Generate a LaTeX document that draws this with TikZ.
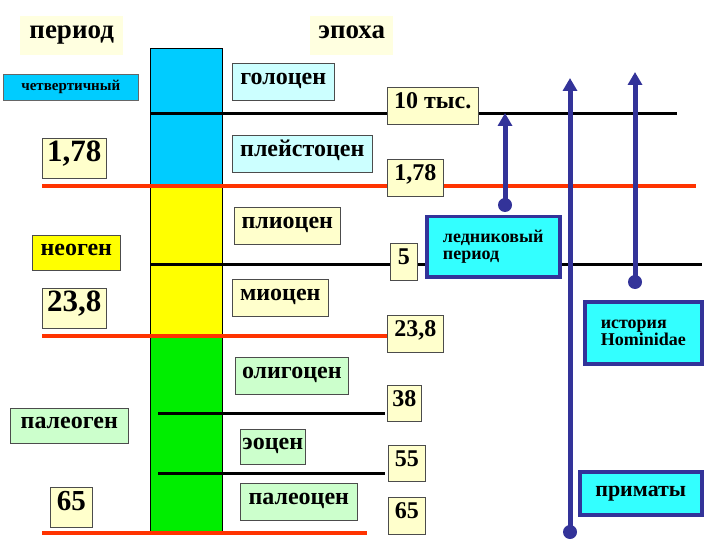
\documentclass[tikz,border=0pt]{standalone}
\usepackage{fontspec}
\setmainfont{Liberation Serif}
\usetikzlibrary{arrows.meta}
\definecolor{pale}{HTML}{FFFFCC}
\definecolor{lcyan}{HTML}{CCFFFF}
\definecolor{lgreen}{HTML}{CCFFCC}
\definecolor{cyanc}{HTML}{00CCFF}
\definecolor{yel}{HTML}{FFFF00}
\definecolor{grn}{HTML}{00EE00}
\definecolor{redl}{HTML}{FF3300}
\definecolor{dblue}{HTML}{333399}
\definecolor{bcyan}{HTML}{33FFFF}
\begin{document}
\begin{tikzpicture}[x=1pt,y=-1pt,
 bx/.style={draw=black!70,line width=0.6pt,inner sep=0pt,anchor=north west,text height=1.3ex,text depth=0pt,font=\bfseries\fontsize{24}{26}\selectfont},
 hd/.style={fill=pale!60,inner sep=0pt,anchor=north west,text height=1.3ex,text depth=0pt,font=\bfseries\fontsize{27}{29}\selectfont},
 blk/.style={line width=3pt,black},
 red/.style={line width=4.5pt,redl},
 blu/.style={line width=5pt,dblue},
 arr/.style={blu,-{Triangle[length=13pt,width=14pt]}},
 dot/.style={circle,fill=dblue,inner sep=0pt,minimum size=14pt},
 bb/.style={draw=dblue,line width=3.5pt,fill=bcyan,inner sep=0pt,anchor=north west,font=\bfseries\fontsize{18}{19}\selectfont}]
\useasboundingbox (0,0) rectangle (720,540);
% column
\fill[cyanc] (150,48) rectangle (222,185);
\fill[yel] (150,185) rectangle (222,335);
\fill[grn] (150,335) rectangle (222,532);
\draw[line width=0.5pt] (150,48) rectangle (222,532);
% lines
\draw[blk] (150,114) -- (387,114);
\draw[blk] (478,114) -- (677,114);
\draw[red] (42,186) -- (387,186);
\draw[red] (443,186) -- (696,186);
\draw[blk] (150,264) -- (390,264);
\draw[blk] (417,264) -- (430,264);
\draw[blk] (558,264) -- (702,264);
\draw[red] (42,336) -- (387,336);
\draw[blk] (158,413) -- (385,413);
\draw[blk] (158,473) -- (385,473);
\draw[red] (42,533) -- (367,533);
% headers
\node[hd,minimum width=103pt,minimum height=39pt] (hp) at (20,16) {период};
\node[hd,minimum width=83pt,minimum height=39pt] (he) at (310,16) {эпоха};
% period boxes
\node[bx,fill=cyanc,draw=black!60,minimum width=135pt,minimum height=26pt,font=\bfseries\fontsize{15}{16}\selectfont] (q) at (3,74) {четвертичный};
\node[bx,fill=pale,minimum width=64pt,minimum height=40pt,font=\bfseries\fontsize{31}{33}\selectfont] (n178) at (42,138) {1,78};
\node[bx,fill=yel,minimum width=88pt,minimum height=35pt] (neo) at (32,235) {неоген};
\node[bx,fill=pale,minimum width=64pt,minimum height=40pt,font=\bfseries\fontsize{31}{33}\selectfont] (n238) at (42,288) {23,8};
\node[bx,fill=lgreen,minimum width=118pt,minimum height=35pt] (pal) at (10,408) {палеоген};
\node[bx,fill=pale,minimum width=42pt,minimum height=40pt,font=\bfseries\fontsize{29}{31}\selectfont] (n65) at (50,487) {65};
% epochs
\node[bx,fill=lcyan,minimum width=102pt,minimum height=37pt] (e1) at (232,63) {голоцен};
\node[bx,fill=lcyan,minimum width=140pt,minimum height=37pt] (e2) at (232,135) {плейстоцен};
\node[bx,fill=pale,minimum width=106pt,minimum height=37pt] (e3) at (234,207) {плиоцен};
\node[bx,fill=pale,minimum width=96pt,minimum height=37pt] (e4) at (232,279) {миоцен};
\node[bx,fill=lgreen,minimum width=113pt,minimum height=37pt] (e5) at (235,357) {олигоцен};
\node[bx,fill=lgreen,minimum width=65pt,minimum height=35pt] (e6) at (240,429) {эоцен};
\node[bx,fill=lgreen,minimum width=117pt,minimum height=37pt] (e7) at (240,483) {палеоцен};
% numbers
\node[bx,fill=pale,minimum width=91pt,minimum height=37pt] (t10) at (387,87) {10 тыс.};
\node[bx,fill=pale,minimum width=56pt,minimum height=37pt] (t178) at (387,159) {1,78};
\node[bx,fill=pale,minimum width=27pt,minimum height=37pt] (t5) at (390,243) {5};
\node[bx,fill=pale,minimum width=56pt,minimum height=37pt] (t238) at (387,315) {23,8};
\node[bx,fill=pale,minimum width=34pt,minimum height=36pt] (t38) at (387,385) {38};
\node[bx,fill=pale,minimum width=37pt,minimum height=36pt] (t55) at (388,445) {55};
\node[bx,fill=pale,minimum width=37pt,minimum height=37pt] (t65) at (388,497) {65};
% blue boxes
\node[bb,minimum width=133pt,minimum height=60pt,align=left] (gl) at (425,215) {ледниковый\\[-2pt]период};
\node[bb,minimum width=117pt,minimum height=62pt,align=left] (hom) at (583,300) {история\\[-2pt]Hominidae};
\node[bb,minimum width=122pt,minimum height=43pt,text height=1.3ex,text depth=0pt,font=\bfseries\fontsize{22}{24}\selectfont] (pri) at (578,470) {приматы};
% arrows
\node[dot] (d1) at (505,205) {};
\coordinate (a1) at (505,113);
\draw[arr] (d1.center) -- (a1);
\node[dot] (d2) at (570,532) {};
\coordinate (a2) at (570,78);
\draw[arr] (d2.center) -- (a2);
\node[dot] (d3) at (635,282) {};
\coordinate (a3) at (635,72);
\draw[arr] (d3.center) -- (a3);
\end{tikzpicture}
\end{document}
